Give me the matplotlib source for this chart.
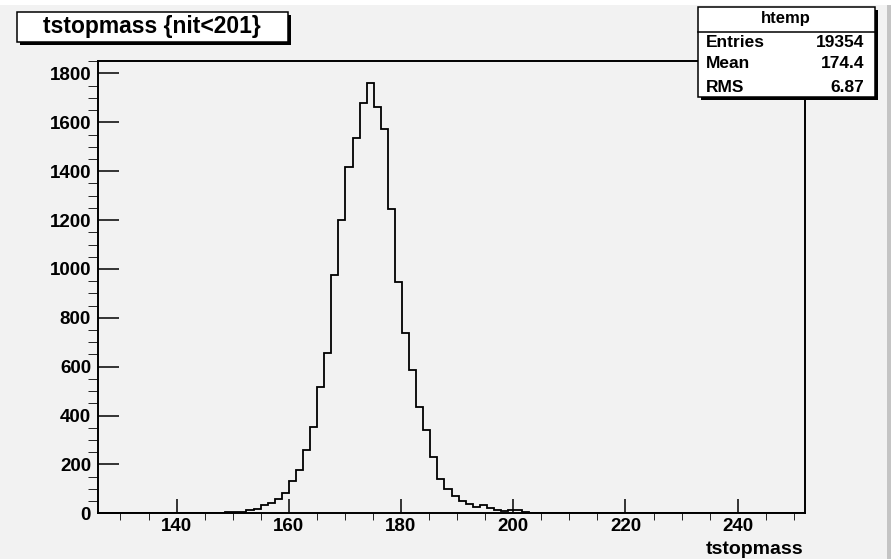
import matplotlib
matplotlib.use("Agg")
import matplotlib.pyplot as plt
from matplotlib.patches import Rectangle
from matplotlib.lines import Line2D
from matplotlib.ticker import MultipleLocator
import numpy as np

### DATA
x_min, x_max = 126.0, 252.0
y_max = 1851
counts = [
    0, 0, 0, 0, 0, 0, 0, 2, 1, 2,
    1, 1, 2, 1, 1, 2, 2, 3, 4, 5,
    6, 14, 16, 32, 41, 58, 82, 134, 176, 259,
    352, 518, 655, 975, 1200, 1418, 1537, 1680, 1763, 1664,
    1571, 1244, 948, 737, 586, 435, 341, 232, 141, 100,
    70, 50, 38, 24, 32, 22, 14, 8, 12, 12,
    4, 3, 2, 2, 1, 2, 1, 1, 2, 1,
    1, 1, 0, 1, 1, 0, 1, 1, 0, 1,
    0, 1, 0, 0, 0, 0, 0, 0, 3, 2,
    3, 2, 2, 0, 0, 0, 0, 0, 0, 0,
]
title = "tstopmass {nit<201}"
x_title = "tstopmass"
stat_name = "htemp"
stat_labels = ["Entries", "Mean", "RMS"]
stat_values = ["19354", "174.4", "6.87"]

edges = np.linspace(x_min, x_max, len(counts) + 1)

W, H = 891, 559
bg = "#f2f2f2"

plt.rcParams["font.family"] = ["Liberation Sans", "DejaVu Sans"]
plt.rcParams["font.weight"] = "bold"


def fx(x):
    return x / W


def fy(y):
    return 1 - y / H


fig = plt.figure(figsize=(W / 100, H / 100), dpi=100, facecolor=bg)

# screenshot edges: white strip on top, grey border on the right
fig.add_artist(Rectangle((0, fy(5)), 1, 5 / H, transform=fig.transFigure,
                         facecolor="white", edgecolor="none", zorder=0))
fig.add_artist(Rectangle((fx(887), 0), 4 / W, fy(5), transform=fig.transFigure,
                         facecolor="#c4c4c4", edgecolor="none", zorder=0))

# frame in pixel coords: left 98, right 805, top 61, bottom 513
ax = fig.add_axes([fx(98), fy(513.3), (805 - 98) / W, (513.3 - 61) / H])
ax.set_facecolor(bg)
ax.stairs(counts, edges, color="black", linewidth=1.3)
ax.set_xlim(x_min, x_max)
ax.set_ylim(0, y_max)

for s in ax.spines.values():
    s.set_linewidth(1.4)

ax.xaxis.set_major_locator(MultipleLocator(20))
ax.xaxis.set_minor_locator(MultipleLocator(5))
ax.yaxis.set_major_locator(MultipleLocator(200))
ax.yaxis.set_minor_locator(MultipleLocator(50))
ax.tick_params(direction="in", width=1.1, labelsize=13.5, top=False, right=False)
ax.tick_params(axis="x", which="major", length=10, pad=3.5)
ax.tick_params(axis="x", which="minor", length=5)
ax.tick_params(axis="y", which="major", length=15, pad=5)
ax.tick_params(axis="y", which="minor", length=7.5)
for lab in ax.get_xticklabels() + ax.get_yticklabels():
    lab.set_fontweight("bold")

fig.text(fx(803), fy(541), x_title, ha="right", va="top", fontsize=14, fontweight="bold")

# title box with shadow
fig.add_artist(Rectangle((fx(20), fy(45)), (291 - 20) / W, (45 - 15) / H,
                         transform=fig.transFigure, facecolor="black", edgecolor="none"))
fig.add_artist(Rectangle((fx(17), fy(42)), (288 - 17) / W, (42 - 12) / H,
                         transform=fig.transFigure, facecolor="white", edgecolor="black", linewidth=1.1))
fig.text(fx(152), fy(27), title, ha="center", va="center", fontsize=16.5, fontweight="bold")

# stats box with shadow
fig.add_artist(Rectangle((fx(701), fy(100)), (878 - 701) / W, (100 - 10) / H,
                         transform=fig.transFigure, facecolor="black", edgecolor="none", zorder=5))
fig.add_artist(Rectangle((fx(698), fy(97)), (875 - 698) / W, (97 - 7) / H,
                         transform=fig.transFigure, facecolor="white", edgecolor="black", linewidth=1.1, zorder=6))
fig.add_artist(Line2D([fx(698), fx(875)], [fy(31.5), fy(31.5)], transform=fig.transFigure,
                      color="black", linewidth=1.1, zorder=7))
fig.text(fx(786), fy(19), stat_name, ha="center", va="center", fontsize=12, fontweight="bold", zorder=8)
row_y = [42.5, 64, 87]
for lab, val, y in zip(stat_labels, stat_values, row_y):
    fig.text(fx(706), fy(y), lab, ha="left", va="center", fontsize=12.5, fontweight="bold", zorder=8)
    fig.text(fx(864), fy(y), val, ha="right", va="center", fontsize=12.5, fontweight="bold", zorder=8)

fig.savefig("out.png", dpi=100, facecolor=bg)
